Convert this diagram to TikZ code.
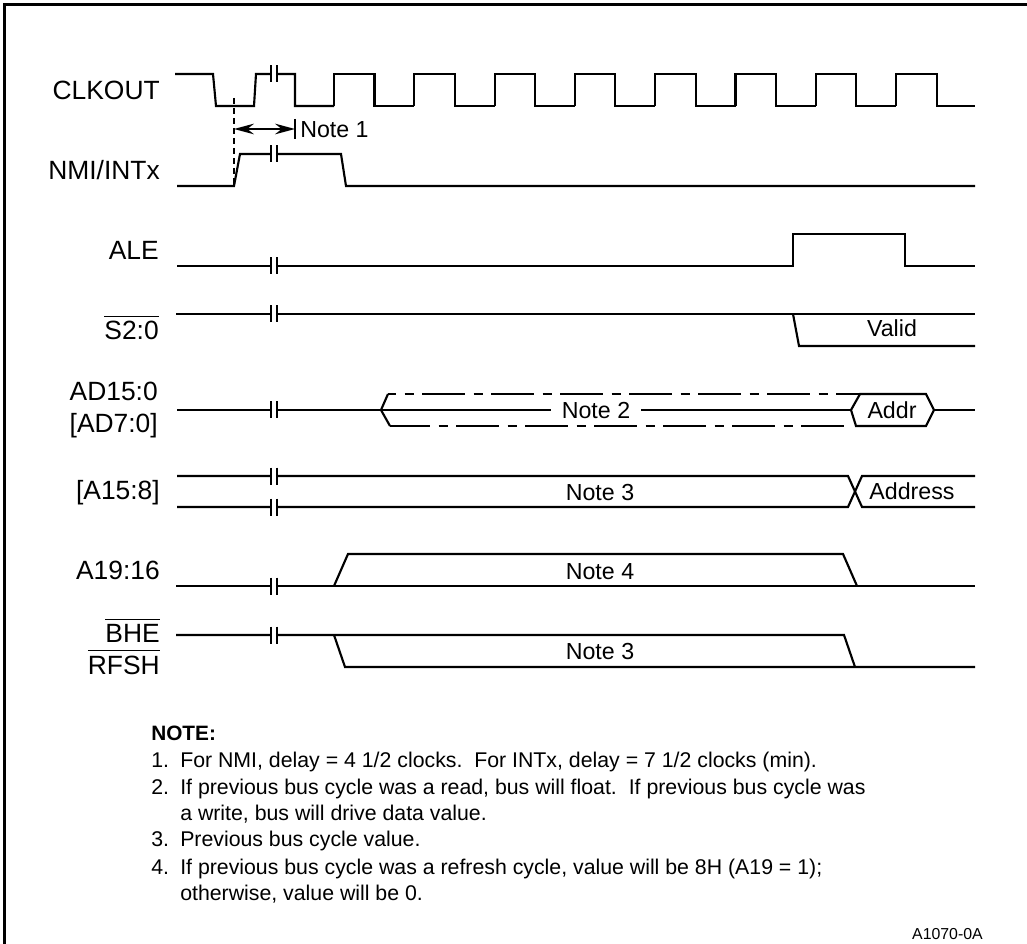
\documentclass[tikz,border=0pt]{standalone}
\usepackage{fontspec}
\setmainfont{Liberation Sans}
\usepackage{tikz}
\usetikzlibrary{calc,arrows.meta}
\newcommand{\barred}[1]{\mbox{$\overline{\mbox{\rule{0pt}{16.2pt}#1}}$}}
\tikzset{
  wave/.style={line width=1.6pt,line join=miter},
  frameline/.style={line width=2.4pt},
  siglabel/.style={anchor=base east,inner sep=0pt,font=\fontsize{19.8}{22}\selectfont},
  buslabel/.style={anchor=base,inner sep=0pt,font=\fontsize{17.4}{20}\selectfont},
  notehead/.style={anchor=base west,inner sep=0pt,font=\fontsize{15.6}{18}\selectfont\bfseries},
  noteline/.style={anchor=base west,inner sep=0pt,font=\fontsize{15.97}{18}\selectfont},
  floattop/.style={wave,dash pattern=on 32pt off 6.5pt on 6.75pt off 6.5pt,dash phase=26pt},
  floatlow/.style={wave,dash pattern=on 32pt off 6.5pt on 6.75pt off 6.5pt,dash phase=2pt},
}
\begin{document}
\begin{tikzpicture}[x=0.75pt,y=-0.75pt,>={Stealth[length=15pt,width=8pt,inset=5pt]}]
      \useasboundingbox (0,0) rectangle (1027,944);
      \draw[frameline] (4.5,944) -- (4.5,4.5) -- (1027,4.5);
      % signal names
      \node[siglabel] (clkout) at (160,100) {CLKOUT};
      \node[siglabel] (nmi) at (160,180) {NMI/INTx};
      \node[siglabel] (ale) at (159,260) {ALE};
      \node[siglabel] (sbar) at (159,340) {\barred{S2:0}};
      \node[siglabel] (adhi) at (158,400.5) {AD15:0};
      \node[siglabel] (adlo) at (158,432.5) {[AD7:0]};
      \node[siglabel] (ahi) at (160,499) {[A15:8]};
      \node[siglabel] (aseg) at (160,579) {A19:16};
      \node[siglabel] (bhe) at (160,642.5) {\barred{BHE}};
      \node[siglabel] (rfsh) at (160,674) {\barred{RFSH}};
      % clock
      \draw[wave] (175,74) -- (213,74) -- (216,106) -- (254,106) -- (256,74) -- (295,74)
        -- (295,106) -- (334,106);
      \foreach \k in {0,...,7} {
        \pgfmathsetmacro{\rise}{334+80.3*\k}
        \pgfmathsetmacro{\fall}{\rise+40.5}
        \pgfmathsetmacro{\next}{\k<7 ? \rise+80.3 : 975}
        \draw[wave] (\rise,106) -- (\rise,74) -- (\fall,74) -- (\fall,106) -- (\next,106);
      }
      % delay
      \draw[line width=1.3pt,dash pattern=on 4.5pt off 3pt] (234,98) -- (234,186);
      \draw[line width=1.3pt,<->] (234,129) -- (295,129);
      \draw[line width=1.3pt] (295,119) -- (295,139);
      \node[buslabel,anchor=base west] (noteone) at (300,138) {Note 1};
      % single lines
      \draw[wave] (177,186) -- (234,186) -- (240,154) -- (341,154) -- (346,186) -- (975,186);
      \draw[wave] (177,266) -- (793,266) -- (793,234) -- (905,234) -- (905,266) -- (975,266);
      \draw[wave] (176,314) -- (975,314);
      \draw[wave] (793,314) -- (799,346) -- (975,346);
      \node[buslabel] (valid) at (892,337) {Valid};
      % address bus
      \node[buslabel,inner xsep=8pt] (notetwo) at (596,418) {Note 2};
      \draw[wave] (177,410) -- (381,410) -- (notetwo.west |- 0,410);
      \draw[wave] (notetwo.east |- 0,410) -- (851,410);
      \draw[wave] (388,394) -- (381,410) -- (390,426);
      \draw[floattop] (388,394) -- (860,394);
      \draw[floatlow] (390,426) -- (847,426);
      \draw[wave] (856,426) -- (851,410) -- (860,394) -- (926,394) -- (934,410) -- (926,426) -- cycle;
      \draw[wave] (934,410) -- (975,410);
      \node[buslabel] (addr) at (892,418) {Addr};
      % upper address
      \draw[wave] (177,476) -- (848,476) -- (862,507) -- (975,507);
      \draw[wave] (177,507) -- (848,507) -- (862,476) -- (975,476);
      \node[buslabel] (notethree) at (600,500) {Note 3};
      \node[buslabel] (address) at (912,499) {Address};
      % status lines
      \draw[wave,line width=1.2pt] (334,586) -- (857,586);
      \draw[wave,line width=1.9pt] (176,586) -- (334,586);
      \draw[wave,line width=1.9pt] (857,586) -- (975,586);
      \draw[wave] (334,586) -- (348,554) -- (843,554) -- (857,586);
      \node[buslabel] (notefour) at (600,579) {Note 4};
      \draw[wave] (176,635) -- (844,635) -- (855,667);
      \draw[wave] (334,635) -- (345,667) -- (975,667);
      \node[buslabel] (notesame) at (600,659) {Note 3};
      % breaks
      \foreach \y in {74,154,266,314,410,476,507,586,635} {
        \fill[white] (271,\y-3) rectangle (277,\y+3);
        \draw[wave] (271,\y-8.5) -- (271,\y+8.5);
        \draw[wave] (277,\y-8.5) -- (277,\y+8.5);
      }
      % notes
      \node[notehead] (notes) at (151,740) {NOTE:};
      \foreach \n/\y/\t in {1./767/{For NMI, delay = 4 1/2 clocks.\ \ For INTx, delay = 7 1/2 clocks (min).},
          2./794/{If previous bus cycle was a read, bus will float.\ \ If previous bus cycle was},
          /820/{a write, bus will drive data value.},
          3./846/{Previous bus cycle value.},
          4./874/{If previous bus cycle was a refresh cycle, value will be 8H (A19 = 1);},
          /900/{otherwise, value will be 0.}} {
        \node[noteline] (num\y) at (151,\y) {\n};
        \node[noteline] (txt\y) at (180,\y) {\t};
      }
      \node[noteline,anchor=base east,font=\fontsize{11.9}{14}\selectfont] (figid) at (983,939) {A1070-0A};
    \end{tikzpicture}
\end{document}
